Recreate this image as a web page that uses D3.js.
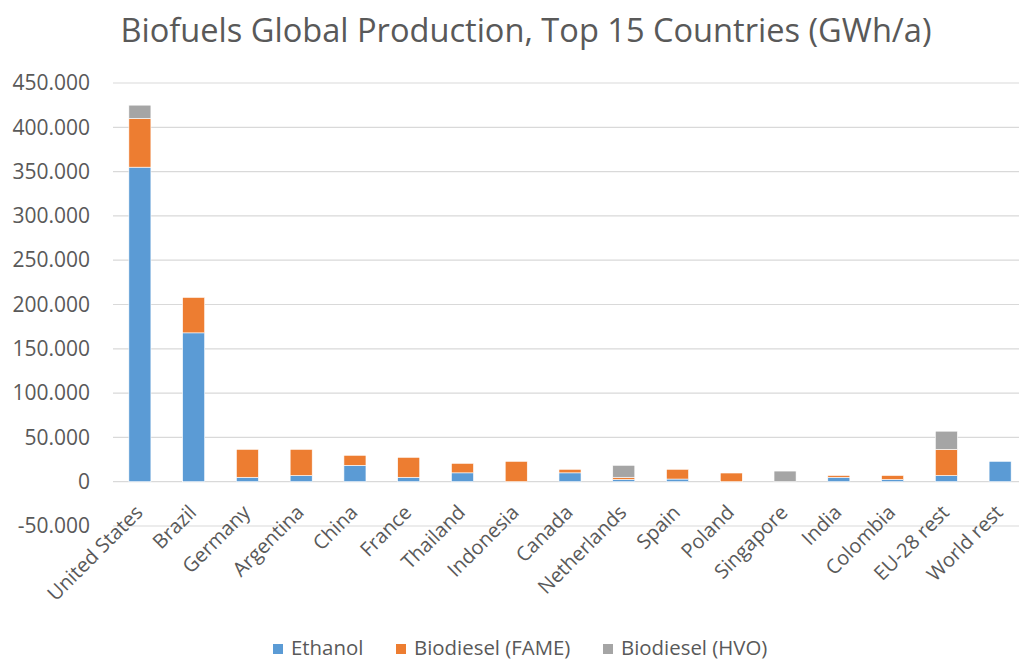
<!DOCTYPE html>
<html>
<head>
<meta charset="utf-8">
<script src="https://cdn.jsdelivr.net/npm/d3@7"></script>
<style>
  body { margin: 0; background: #fff; }
  text { font-family: "Open Sans", sans-serif; fill: #595959; }
</style>
</head>
<body>
<script>
// Chart data (GWh/a)
const countries = ["United States", "Brazil", "Germany", "Argentina", "China", "France",
    "Thailand", "Indonesia", "Canada", "Netherlands", "Spain", "Poland", "Singapore",
    "India", "Colombia", "EU-28 rest", "World rest"];
const ethanol = [355000, 168000, 5000, 7000, 18500, 5000, 10000, 0, 10000, 2500, 3000, 0, 0, 5000, 2500, 7000, 23000];
const fame    = [55000, 40000, 31500, 29500, 11300, 22500, 10700, 23000, 4000, 2500, 11000, 9800, 0, 2000, 4500, 29500, 0];
const hvo     = [15000, 0, 0, 0, 0, 0, 0, 0, 0, 13500, 0, 0, 12000, 0, 0, 20500, 0];
const seriesNames = ["Ethanol", "Biodiesel (FAME)", "Biodiesel (HVO)"];
const yTicks = [-50000, 0, 50000, 100000, 150000, 200000, 250000, 300000, 350000, 400000, 450000];

const canvWidth = 1019, canvHeight = 660;
const svg = d3.select("body").append("svg")
    .attr("width", canvWidth)
    .attr("height", canvHeight);

const plot = {left: 113, right: 1027, top: 83, bottom: 526};

const colorScale = d3.scaleOrdinal()
    .domain(seriesNames)
    .range(["#5b9bd5", "#ed7d31", "#a5a5a5"]);

// build rows for the stack
const rows = countries.map((c, i) => ({
    country: c,
    "Ethanol": ethanol[i],
    "Biodiesel (FAME)": fame[i],
    "Biodiesel (HVO)": hvo[i]
}));
const stacked = d3.stack().keys(seriesNames)(rows);

const xScale = d3.scaleBand()
    .domain(countries)
    .range([plot.left, plot.right])
    .paddingInner(0.59)
    .paddingOuter(0.295);
const yScale = d3.scaleLinear()
    .domain([-50000, 450000])
    .range([plot.bottom, plot.top]);

const locale = d3.formatLocale({decimal: ",", thousands: ".", grouping: [3], currency: ["", ""], minus: "-"});
const fmt = locale.format(",d");

// gridlines
svg.append("g")
    .selectAll("line")
    .data(yTicks)
    .enter().append("line")
    .attr("x1", plot.left)
    .attr("x2", plot.right)
    .attr("y1", d => yScale(d))
    .attr("y2", d => yScale(d))
    .attr("stroke", "#d9d9d9")
    .attr("stroke-width", 1.2);

// y axis labels
const yAxis = d3.axisLeft(yScale).tickValues(yTicks).tickFormat(fmt).tickSize(0).tickPadding(23);
svg.append("g")
    .attr("transform", "translate(" + plot.left + ",0)")
    .call(yAxis)
    .call(g => g.select(".domain").remove())
    .selectAll("text")
    .attr("font-size", "21px")
    .attr("font-family", "Open Sans, sans-serif")
    .attr("fill", "#595959");

// bars
svg.append("g")
    .selectAll("g")
    .data(stacked)
    .enter().append("g")
    .attr("fill", d => colorScale(d.key))
    .selectAll("rect")
    .data(d => d.map((v, i) => ({v: v, country: countries[i]})))
    .enter().append("rect")
    .attr("x", d => xScale(d.country))
    .attr("width", xScale.bandwidth())
    .attr("y", d => yScale(d.v[1]))
    .attr("height", d => yScale(d.v[0]) - yScale(d.v[1]))
    .attr("stroke", "#fff")
    .attr("stroke-width", 0.6);

// x axis labels, rotated
const xAxis = d3.axisBottom(xScale).tickSize(0).tickPadding(0);
svg.append("g")
    .attr("transform", "translate(0," + yScale(0) + ")")
    .call(xAxis)
    .call(g => g.select(".domain").remove())
    .selectAll("text")
    .attr("font-size", "20px")
    .attr("font-family", "Open Sans, sans-serif")
    .attr("fill", "#595959")
    .style("text-anchor", "end")
    .attr("dx", "0")
    .attr("dy", "0")
    .attr("transform", "translate(4,32) rotate(-45)");

// title
svg.append("text")
    .attr("x", 526)
    .attr("y", 42)
    .attr("font-size", "32.6px")
    .style("text-anchor", "middle")
    .text("Biofuels Global Production, Top 15 Countries (GWh/a)");

// legend
const legendX = [273, 396, 603];
const legend = svg.append("g")
    .selectAll("g")
    .data(seriesNames)
    .enter().append("g")
    .attr("transform", (d, i) => "translate(" + legendX[i] + ",644)");
legend.append("rect")
    .attr("width", 10)
    .attr("height", 10)
    .attr("fill", d => colorScale(d));
legend.append("text")
    .attr("x", 18)
    .attr("y", 11)
    .attr("font-size", "20.4px")
    .text(d => d);
</script>
</body>
</html>
